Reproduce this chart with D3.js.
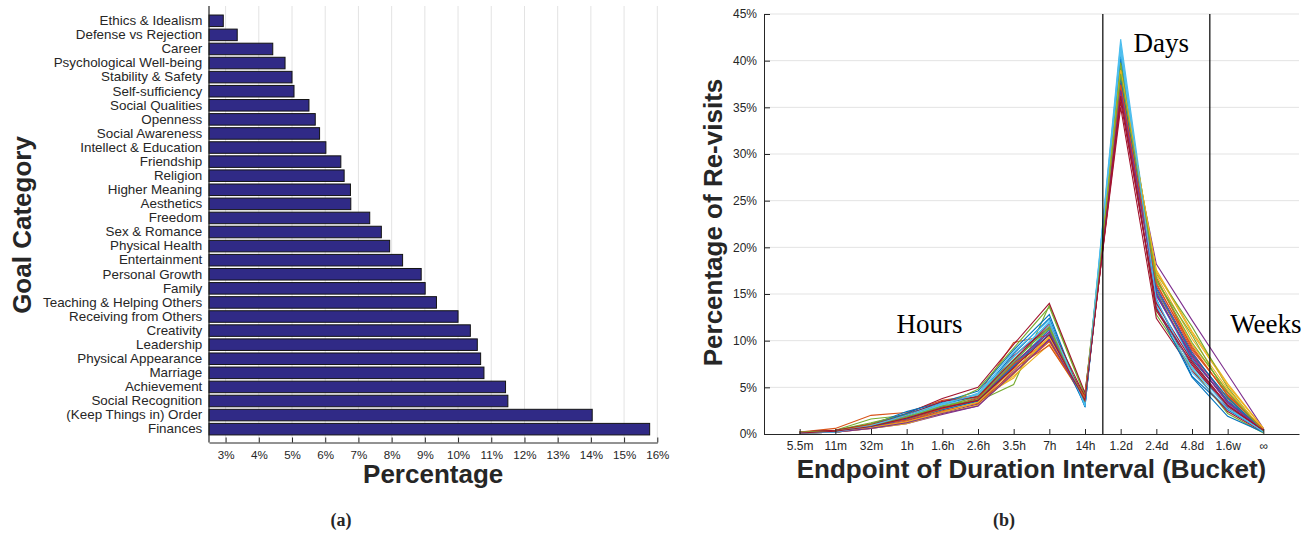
<!DOCTYPE html>
<html>
<head>
<meta charset="utf-8">
<script src="https://cdn.jsdelivr.net/npm/d3@7/dist/d3.min.js"></script>
<style>
  html, body { margin: 0; padding: 0; background: #fff; }
  svg { display: block; }
  text { font-family: "Liberation Sans", Arial, Helvetica, sans-serif; fill: #262626; }
</style>
</head>
<body>
<svg id="chart" width="1307" height="536"></svg>
<script>
// ---------- Data: panel (a) ----------
const categories = [
  "Ethics & Idealism", "Defense vs Rejection", "Career", "Psychological Well-being",
  "Stability & Safety", "Self-sufficiency", "Social Qualities", "Openness",
  "Social Awareness", "Intellect & Education", "Friendship", "Religion",
  "Higher Meaning", "Aesthetics", "Freedom", "Sex & Romance", "Physical Health",
  "Entertainment", "Personal Growth", "Family", "Teaching & Helping Others",
  "Receiving from Others", "Creativity", "Leadership", "Physical Appearance",
  "Marriage", "Achievement", "Social Recognition", "(Keep Things in) Order", "Finances"
];
const percentages = [
  2.93, 3.35, 4.42, 4.79, 5.00, 5.06, 5.51, 5.70, 5.83, 6.02,
  6.47, 6.57, 6.76, 6.77, 7.34, 7.69, 7.94, 8.33, 8.89, 9.01,
  9.35, 10.00, 10.37, 10.58, 10.68, 10.78, 11.43, 11.50, 14.04, 15.77
];
const percentTicks = [3, 4, 5, 6, 7, 8, 9, 10, 11, 12, 13, 14, 15, 16];

// ---------- Data: panel (b) ----------
const buckets = ["5.5m", "11m", "32m", "1h", "1.6h", "2.6h", "3.5h", "7h", "14h", "1.2d", "2.4d", "4.8d", "1.6w", "\u221E"];
const revisitTicks = [0, 5, 10, 15, 20, 25, 30, 35, 40, 45];
const revisitSeries = [
  [0.1,0.2,0.7,1.6,2.9,3.6,7.4,11.2,3.0,38.6,14.5,6.2,2.6,0.3],
  [0.2,0.6,2.0,2.3,3.6,4.2,9.8,10.6,4.0,36.0,15.4,8.5,3.8,0.4],
  [0.1,0.3,0.9,1.2,2.4,3.4,6.2,9.6,3.6,39.5,16.5,9.6,4.6,0.5],
  [0.1,0.2,0.6,1.1,2.1,3.0,6.8,10.2,3.4,37.2,18.2,12.2,6.4,0.6],
  [0.2,0.4,1.6,2.0,3.2,3.5,5.3,13.8,4.2,38.0,12.8,7.0,2.2,0.1],
  [0.1,0.2,0.8,1.8,3.0,4.4,8.2,12.0,3.2,42.3,15.0,7.8,3.0,0.3],
  [0.2,0.4,1.1,2.2,3.8,5.0,9.6,14.0,4.4,35.0,12.4,6.8,2.4,0.2],
  [0.1,0.3,1.0,2.4,3.4,4.6,9.0,12.8,2.9,40.8,13.6,6.1,1.9,0.2],
  [0.1,0.2,0.7,1.4,2.6,3.6,7.0,9.5,3.8,37.8,16.8,9.2,4.2,0.5],
  [0.2,0.3,0.9,1.7,2.8,3.7,6.0,10.8,3.5,38.4,17.6,11.0,5.4,0.6],
  [0.1,0.3,0.8,1.5,2.3,3.2,7.2,11.0,3.9,36.6,15.8,8.8,3.5,0.3],
  [0.1,0.4,1.2,2.1,3.0,4.8,9.2,13.6,4.1,39.2,17.2,11.5,5.0,0.2],
  [0.2,0.2,0.7,1.9,3.1,3.9,7.8,11.6,3.3,41.5,14.2,7.2,3.2,0.4],
  [0.1,0.3,1.0,1.6,2.7,3.8,8.4,11.4,3.7,37.0,13.2,7.4,2.8,0.5],
  [0.1,0.2,0.9,2.2,3.3,4.0,8.6,12.4,3.1,40.2,15.2,8.0,3.6,0.4],
  [0.2,0.3,0.8,1.3,2.5,3.3,6.6,9.9,3.6,36.4,16.2,9.0,4.4,0.3],
  [0.1,0.2,0.6,1.1,2.2,3.1,6.4,10.4,3.8,38.9,17.0,10.2,4.8,0.4],
  [0.2,0.3,0.9,1.8,2.9,3.6,7.6,10.9,3.5,37.6,14.8,8.4,3.3,0.5],
  [0.1,0.3,1.1,1.9,2.8,4.1,8.0,11.3,3.4,39.8,16.4,10.6,4.0,0.2],
  [0.1,0.2,0.8,1.7,3.2,4.3,8.8,12.2,3.0,41.0,13.8,6.6,2.7,0.3],
  [0.2,0.4,1.0,2.0,3.5,4.0,7.9,11.8,4.0,35.6,14.0,7.8,3.1,0.4],
  [0.1,0.3,0.8,1.6,2.6,3.5,7.3,10.7,3.2,38.2,15.6,8.6,3.9,0.3],
  [0.2,0.3,1.0,1.5,2.7,3.9,7.5,10.0,3.9,37.4,16.0,9.4,4.1,0.5],
  [0.1,0.2,0.7,1.3,2.3,3.4,6.9,10.3,3.7,39.0,17.4,10.8,5.2,0.6],
  [0.1,0.2,0.6,1.2,2.2,3.0,6.5,10.1,3.6,36.8,15.0,8.2,3.4,0.4],
  [0.2,0.3,0.9,1.8,3.0,3.7,7.7,11.5,3.5,38.6,16.6,9.8,4.5,0.3],
  [0.1,0.2,0.9,2.0,3.3,4.2,8.3,11.9,3.1,41.8,14.4,7.0,2.9,0.2],
  [0.1,0.3,0.8,1.7,2.8,3.6,7.1,10.6,3.6,36.2,13.4,7.6,3.0,0.4]
];
const seriesColors = ["#0072BD", "#D95319", "#EDB120", "#7E2F8E", "#77AC30", "#4DBEEE", "#A2142F"];
const regionLabels = [
  { text: "Hours", pos: 4.64 },
  { text: "Days",  pos: 11.14 },
  { text: "Weeks", pos: 14.07 }
];
const regionBoundaries = [9.5, 12.5];

const svg = d3.select("#chart");

// ================= Panel (a) =================
const A = { left: 209, right: 657.3, top: 6, bottom: 442.5 };
const xA = d3.scaleLinear().domain([2.5, 16]).range([A.left, A.right]);
const yA = d3.scaleBand().domain(categories).range([13.76, 436.2]).paddingInner(0.18).paddingOuter(0.09);

const gA = svg.append("g");
// vertical gridlines
gA.append("g").selectAll("line").data(percentTicks).join("line")
  .attr("x1", d => xA(d)).attr("x2", d => xA(d))
  .attr("y1", A.top).attr("y2", A.bottom)
  .attr("stroke", "#e3e3e3").attr("stroke-width", 1);

// bars
gA.append("g").selectAll("rect").data(categories).join("rect")
  .attr("x", xA(2.5))
  .attr("y", d => yA(d))
  .attr("width", (d, i) => xA(percentages[i]) - xA(2.5))
  .attr("height", yA.bandwidth())
  .attr("fill", "#302A86")
  .attr("stroke", "#141414").attr("stroke-width", 1);

// bottom axis with inward ticks
const axA = gA.append("g").attr("transform", `translate(0,${A.bottom})`)
  .call(d3.axisBottom(xA).tickValues(percentTicks).tickFormat(d => d + "%").tickSizeInner(-5).tickSizeOuter(0).tickPadding(8.3));
axA.select(".domain").attr("stroke", "#262626");
axA.selectAll(".tick line").attr("stroke", "#262626");
axA.selectAll("text").attr("font-size", 11.6).attr("fill", "#262626")
  .style("font-family", '"Liberation Sans", Arial, sans-serif');

// left axis (line + category labels)
const ayA = gA.append("g").attr("transform", `translate(${A.left},0)`)
  .call(d3.axisLeft(yA).tickSize(0).tickPadding(6.7));
ayA.select(".domain").remove();
gA.append("line").attr("x1", A.left).attr("x2", A.left).attr("y1", A.top).attr("y2", A.bottom)
  .attr("stroke", "#262626").attr("stroke-width", 1.2);
ayA.selectAll("text").attr("font-size", 13.4).attr("fill", "#262626")
  .style("font-family", '"Liberation Sans", Arial, sans-serif');

// titles
gA.append("text").attr("x", (A.left + A.right) / 2).attr("y", 483.3)
  .attr("text-anchor", "middle").attr("font-size", 26).attr("font-weight", "bold")
  .text("Percentage");
gA.append("text").attr("transform", `translate(31,225) rotate(-90)`)
  .attr("text-anchor", "middle").attr("font-size", 26).attr("font-weight", "bold")
  .text("Goal Category");
gA.append("text").attr("x", 341).attr("y", 526)
  .attr("text-anchor", "middle").attr("font-size", 18).attr("font-weight", "bold")
  .style("font-family", '"Liberation Serif", "Times New Roman", serif')
  .text("(a)");

// ================= Panel (b) =================
const B = { left: 764, right: 1299, top: 14, bottom: 434 };
const xB = d3.scaleLinear().domain([0, 15]).range([B.left, B.right]);
const yB = d3.scaleLinear().domain([0, 45]).range([B.bottom, B.top]);
const gB = svg.append("g");

// horizontal gridlines
gB.append("g").selectAll("line").data(revisitTicks.slice(1)).join("line")
  .attr("x1", B.left).attr("x2", B.right)
  .attr("y1", d => yB(d)).attr("y2", d => yB(d))
  .attr("stroke", "#e3e3e3").attr("stroke-width", 1);

// series lines
const line = d3.line().x((d, i) => xB(i + 1)).y(d => yB(d));
gB.append("g").selectAll("path").data(revisitSeries).join("path")
  .attr("d", line)
  .attr("fill", "none")
  .attr("stroke", (d, i) => seriesColors[i % seriesColors.length])
  .attr("stroke-width", 1.1);

// region boundaries
gB.append("g").selectAll("line").data(regionBoundaries).join("line")
  .attr("x1", d => xB(d)).attr("x2", d => xB(d))
  .attr("y1", B.top).attr("y2", B.bottom)
  .attr("stroke", "#000").attr("stroke-width", 1.2);

// region labels
gB.append("g").selectAll("text").data(regionLabels).join("text")
  .attr("x", d => xB(d.pos))
  .attr("y", d => d.text === "Days" ? 52 : 332.5)
  .attr("text-anchor", "middle")
  .attr("font-size", 27)
  .style("font-family", '"Liberation Serif", "Times New Roman", serif')
  .style("fill", "#000")
  .text(d => d.text);

// x axis
const axB = gB.append("g").attr("transform", `translate(0,${B.bottom})`)
  .call(d3.axisBottom(xB).tickValues(d3.range(1, buckets.length + 1)).tickFormat(d => buckets[d - 1])
    .tickSizeInner(-5).tickSizeOuter(0).tickPadding(7));
axB.select(".domain").attr("stroke", "#262626");
axB.selectAll(".tick line").attr("stroke", "#262626");
axB.selectAll("text").attr("font-size", 12).attr("fill", "#262626")
  .style("font-family", '"Liberation Sans", Arial, sans-serif');

// y axis
const ayB = gB.append("g").attr("transform", `translate(${B.left},0)`)
  .call(d3.axisLeft(yB).tickValues(revisitTicks).tickFormat(d => d + "%")
    .tickSizeInner(-6).tickSizeOuter(0).tickPadding(7));
ayB.select(".domain").attr("stroke", "#262626");
ayB.selectAll(".tick line").attr("stroke", "#262626");
ayB.selectAll("text").attr("font-size", 12).attr("fill", "#262626")
  .style("font-family", '"Liberation Sans", Arial, sans-serif');

// titles
gB.append("text").attr("x", 1031.5).attr("y", 478)
  .attr("text-anchor", "middle").attr("font-size", 26).attr("font-weight", "bold")
  .text("Endpoint of Duration Interval (Bucket)");
gB.append("text").attr("transform", `translate(721.7,222.5) rotate(-90)`)
  .attr("text-anchor", "middle").attr("font-size", 26).attr("font-weight", "bold")
  .text("Percentage of Re-visits");
gB.append("text").attr("x", 1004).attr("y", 526)
  .attr("text-anchor", "middle").attr("font-size", 18).attr("font-weight", "bold")
  .style("font-family", '"Liberation Serif", "Times New Roman", serif')
  .text("(b)");
</script>
</body>
</html>
